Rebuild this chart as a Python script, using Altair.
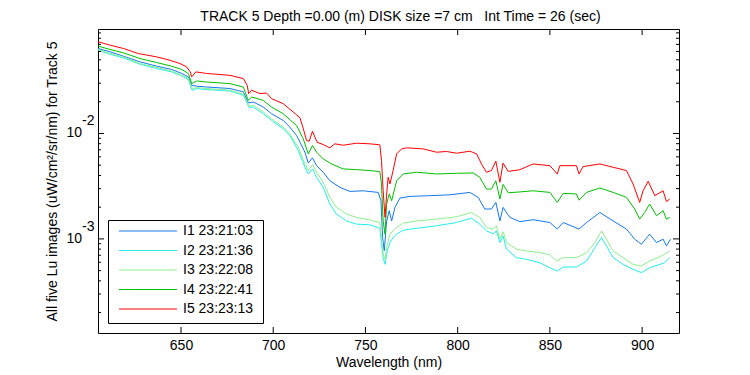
import altair as alt
import pandas as pd

NAMES = ["I1 23:21:03", "I2 23:21:36", "I3 23:22:08", "I4 23:22:41", "I5 23:23:13"]
COLORS = ["#1478f0", "#22eeee", "#8cf08c", "#00c000", "#ff0000"]

WL_I1 = [605, 611.5, 618.7, 627.8, 636.8, 644.9, 650.4, 654, 655.8, 658.5, 663.9, 676.5, 683.8, 686.5,
         689.2, 694.6, 699.1, 705.4, 709, 712.7, 717.2, 719, 721.3, 723.5, 727.1, 730.7, 736.2, 741.6,
         748.8, 756.9, 758.4, 759.3, 760.2, 761.5, 762.9, 764.2, 766, 768.7, 774.1, 784.9, 795.8, 806.6,
         811.1, 814.7, 818.3, 820.7, 822.9, 824.6, 828.3, 833.7, 840.9, 850, 854, 857.2, 865.8, 869.9,
         877.1, 884.3, 891.5, 896, 899.6, 904.1, 907.8, 911.4, 913.2, 915.4]
LU_I1 = [0.0641, 0.0596, 0.0541, 0.0478, 0.0435, 0.0405, 0.0371, 0.0344, 0.0286, 0.0281, 0.0276, 0.0267,
         0.0248, 0.0195, 0.0199, 0.0178, 0.0154, 0.0133, 0.0115, 0.00957, 0.00664, 0.00524, 0.00586,
         0.00495, 0.00429, 0.00356, 0.00308, 0.00282, 0.00286, 0.00276, 0.00230, 0.00103, 0.000769,
         0.00148, 0.00185, 0.00148, 0.00199, 0.00244, 0.00253, 0.00257, 0.00262, 0.00276, 0.00248,
         0.00192, 0.00192, 0.00222, 0.00148, 0.00199, 0.00160, 0.00146, 0.00152, 0.00143, 0.00124,
         0.00143, 0.00124, 0.00143, 0.00178, 0.00148, 0.00124, 0.000993, 0.000889, 0.00111, 0.000923,
         0.000993, 0.000857, 0.000993]

WL_I2 = [605, 611.5, 618.7, 627.8, 636.8, 644.9, 650.4, 654, 656.1, 658.5, 663.9, 676.5, 683.8, 687,
         689.2, 694.6, 699.1, 705.4, 709, 713.6, 717.2, 719, 721.3, 723.5, 727.1, 730.7, 734.3, 739.7,
         745.2, 752.4, 757.8, 758.7, 759.6, 760.6, 761.8, 763.3, 765, 766.9, 770.5, 777.7, 788.5, 799.4,
         807.5, 812, 815.6, 819.2, 821, 822.9, 824.6, 826.5, 831.9, 837.3, 844.6, 850, 854, 857.2, 864.4,
         869.9, 874.4, 878, 880.7, 884.3, 889.7, 895.1, 899.6, 904.1, 908.6, 912.2, 915]
LU_I2 = [0.0617, 0.0565, 0.0521, 0.0454, 0.0413, 0.0384, 0.0352, 0.0324, 0.0257, 0.0267, 0.0261, 0.0253,
         0.0230, 0.0176, 0.0178, 0.0154, 0.0133, 0.0111, 0.00957, 0.00689, 0.00478, 0.00413, 0.00461,
         0.00384, 0.00308, 0.00214, 0.00172, 0.00148, 0.00138, 0.00136, 0.00126, 0.000889, 0.000664,
         0.000574, 0.000769, 0.000923, 0.00103, 0.00111, 0.00121, 0.00126, 0.00133, 0.00143, 0.00157,
         0.00138, 0.00119, 0.00112, 0.00119, 0.000923, 0.00107, 0.000798, 0.000664, 0.000640, 0.000594,
         0.000533, 0.000495, 0.000541, 0.000541, 0.000617, 0.000826, 0.00103, 0.000857, 0.000664,
         0.000574, 0.000514, 0.000478, 0.000533, 0.000565, 0.000594, 0.000664]

WL_I3 = [605, 611.5, 618.7, 627.8, 636.8, 644.9, 650.4, 654, 656.1, 658.5, 663.9, 676.5, 683.8, 687,
         689.2, 694.6, 699.1, 705.4, 709, 713.6, 717.2, 719, 721.3, 723.5, 727.1, 730.7, 734.3, 739.7,
         745.2, 752.4, 757.8, 758.7, 759.6, 760.6, 761.8, 763.3, 765, 766.9, 770.5, 777.7, 788.5, 799.4,
         807.5, 812, 815.6, 819.2, 821, 822.9, 824.6, 826.5, 831.9, 837.3, 844.6, 850, 853.6, 857.2, 864.4,
         869.9, 874.4, 878, 880.7, 884.3, 889.7, 895.1, 899.6, 904.1, 908.6, 912.2, 915]
LU_I3 = [0.0627, 0.0574, 0.0533, 0.0461, 0.0423, 0.0392, 0.0356, 0.0332, 0.0267, 0.0272, 0.0267, 0.0257,
         0.0235, 0.0181, 0.0185, 0.0160, 0.0138, 0.0115, 0.00993, 0.00741, 0.00514, 0.00445, 0.00507,
         0.00429, 0.00344, 0.00248, 0.00199, 0.00172, 0.00160, 0.00151, 0.00143, 0.00103, 0.000714,
         0.000640, 0.000889, 0.00111, 0.00119, 0.00128, 0.00141, 0.00148, 0.00154, 0.00162, 0.00178,
         0.00160, 0.00128, 0.00124, 0.00133, 0.000993, 0.00117, 0.000923, 0.000798, 0.000769, 0.000741,
         0.000705, 0.000617, 0.000664, 0.000664, 0.000741, 0.000923, 0.00119, 0.000993, 0.000769,
         0.000664, 0.000574, 0.000553, 0.000617, 0.000664, 0.000714, 0.000769]

WL_I4 = [605, 611.5, 618.7, 627.8, 636.8, 644.9, 650.4, 654, 655.8, 658.5, 663.9, 676.5, 683.8, 686.5,
         688.3, 694.6, 699.1, 705.4, 709, 712.7, 716.3, 719, 721.3, 723.5, 727.1, 731.6, 738, 745.2,
         752.4, 757.8, 758.7, 759.6, 760.6, 761.5, 762.9, 764.2, 766.9, 770.5, 777.7, 788.5, 799.4, 808.4,
         812, 815.6, 818.3, 820.7, 822.9, 824.6, 827.4, 833.7, 840.9, 850, 854, 857.2, 864.4, 865.8,
         869.9, 877.1, 884.3, 891.5, 896, 898.7, 901.4, 904.1, 907.8, 911.4, 913.2, 915]
LU_I4 = [0.0675, 0.0627, 0.0582, 0.0514, 0.0471, 0.0435, 0.0405, 0.0371, 0.0297, 0.0315, 0.0308, 0.0297,
         0.0276, 0.0206, 0.0222, 0.0206, 0.0178, 0.0154, 0.0135, 0.0119, 0.00889, 0.00640, 0.00769,
         0.00664, 0.00574, 0.00514, 0.00461, 0.00454, 0.00445, 0.00435, 0.00332, 0.00148, 0.00111,
         0.00214, 0.00267, 0.00230, 0.00356, 0.00413, 0.00429, 0.00413, 0.00419, 0.00422, 0.00384,
         0.00297, 0.00297, 0.00356, 0.00239, 0.00329, 0.00274, 0.00279, 0.00286, 0.00276, 0.00222,
         0.00270, 0.00267, 0.00233, 0.00276, 0.00304, 0.00276, 0.00248, 0.00192, 0.00154, 0.00178,
         0.00214, 0.00166, 0.00185, 0.00154, 0.00160]

WL_I5 = [605, 611.5, 618.7, 626.8, 636.8, 644, 649.4, 653, 655, 655.8, 658, 663.9, 676.5, 683.8, 685.9,
         686.7, 688.3, 692.8, 696.4, 699.1, 705.4, 709, 714.5, 716.3, 718.1, 719.5, 721.3, 722.6, 723.8,
         727.1, 730.7, 733.4, 738, 745.2, 752.4, 757.8, 758.7, 759.6, 760.6, 761.5, 762.3, 763.3, 765,
         766.9, 769.6, 772.3, 781.3, 788.5, 793.9, 799.4, 806.6, 810.3, 812.9, 815.6, 818.3, 820.7, 822.9,
         824.6, 827.4, 833.7, 840.9, 850, 854, 855.4, 864.4, 865.8, 868, 877.1, 884.3, 891.5, 895.1,
         898.7, 900.5, 903.3, 906.9, 911.4, 913.2, 915]
LU_I5 = [0.0741, 0.0689, 0.0641, 0.0574, 0.0533, 0.0495, 0.0461, 0.0429, 0.0384, 0.0344, 0.0384, 0.0371,
         0.0356, 0.0332, 0.0286, 0.0239, 0.0257, 0.0239, 0.0242, 0.0214, 0.0192, 0.0170, 0.0141, 0.0111,
         0.00857, 0.00845, 0.0105, 0.00923, 0.00826, 0.00785, 0.00731, 0.00798, 0.00774, 0.00809,
         0.00798, 0.00780, 0.00553, 0.00286, 0.00160, 0.00266, 0.00384, 0.00332, 0.00445, 0.00640,
         0.00714, 0.00731, 0.00714, 0.00664, 0.00675, 0.00650, 0.00679, 0.00640, 0.00514, 0.00429,
         0.00445, 0.00546, 0.00344, 0.00524, 0.00437, 0.00453, 0.00514, 0.00495, 0.00413, 0.00495,
         0.00495, 0.00413, 0.00485, 0.00514, 0.00478, 0.00445, 0.00332, 0.00222, 0.00286, 0.00352,
         0.00257, 0.00286, 0.00226, 0.00239]

X_LIMITS = [605, 920]
Y_LIMITS = [1.28e-4, 0.098]
X_TICKS = [650, 700, 750, 800, 850, 900]
Y_MAJOR = [0.001, 0.01]
Y_EXP = ["-3", "-2"]
Y_MINOR = [2e-4, 3e-4, 4e-4, 5e-4, 6e-4, 7e-4, 8e-4, 9e-4,
           2e-3, 3e-3, 4e-3, 5e-3, 6e-3, 7e-3, 8e-3, 9e-3,
           2e-2, 3e-2, 4e-2, 5e-2, 6e-2, 7e-2, 8e-2, 9e-2]

NB = "\u00a0"
TITLE = "TRACK 5 Depth =0.00 (m) DISK size =7 cm " + NB + NB + "Int Time = 26 (sec)"
X_TITLE = "Wavelength (nm)"
Y_TITLE = "All five Lu images (uW/cm\u00b2/sr/nm) for Track 5"

FONT = "Liberation Sans"
FS = 14
W, H = 581, 304

frames = []
for name, wl, lu in zip(NAMES, [WL_I1, WL_I2, WL_I3, WL_I4, WL_I5],
                        [LU_I1, LU_I2, LU_I3, LU_I4, LU_I5]):
    d = pd.DataFrame({"wl": wl, "lu": lu})
    d["name"] = name
    frames.append(d)
spectra = pd.concat(frames, ignore_index=True)

x_scale = alt.Scale(domain=X_LIMITS, nice=False, zero=False)
y_scale = alt.Scale(type="log", domain=Y_LIMITS, nice=False)
color_scale = alt.Scale(domain=NAMES, range=COLORS)

x_axis = alt.Axis(values=X_TICKS, ticks=False, tickSize=0, domain=False, grid=False,
                  labelFontSize=FS, labelPadding=5, labelFont=FONT, labelColor="black",
                  title=X_TITLE, titleFontSize=FS, titleFontWeight="normal", titleFont=FONT,
                  titleColor="black", titlePadding=3)

lines = alt.Chart(spectra).mark_line(strokeWidth=1, clip=True).encode(
    x=alt.X("wl:Q", scale=x_scale, axis=x_axis),
    y=alt.Y("lu:Q", scale=y_scale,
            axis=alt.Axis(labels=False, ticks=False, tickSize=0, domain=False, grid=False,
                          title=Y_TITLE, titleFontSize=FS, titleFontWeight="normal", titleFont=FONT,
                          titleColor="black", titlePadding=39)),
    color=alt.Color("name:N", scale=color_scale, legend=None),
    detail="name:N",
    order=alt.Order("wl:Q"),
)

xt = pd.DataFrame({"wl": X_TICKS})
ymaj = pd.DataFrame({"lu": Y_MAJOR, "e": Y_EXP})
ymin = pd.DataFrame({"lu": Y_MINOR})

def xticks(y0, y1):
    return alt.Chart(xt).mark_rule(color="black", strokeWidth=1).encode(
        x=alt.X("wl:Q", scale=x_scale, axis=x_axis), y=alt.value(y0), y2=alt.value(y1))

def yticks(df, x0, x1):
    return alt.Chart(df).mark_rule(color="black", strokeWidth=1).encode(
        y=alt.Y("lu:Q", scale=y_scale, axis=None), x=alt.value(x0), x2=alt.value(x1))

tick_layers = [
    xticks(H, H - 6), xticks(0, 6),
    yticks(ymaj, 0, 6), yticks(ymaj, W, W - 6),
    yticks(ymin, 0, 3), yticks(ymin, W, W - 3),
]

ten = alt.Chart(ymaj).mark_text(align="right", baseline="middle", fontSize=FS, font=FONT,
                                color="black").encode(
    y=alt.Y("lu:Q", scale=y_scale, axis=None), x=alt.value(-16), text=alt.value("10"))
exp = alt.Chart(ymaj).mark_text(align="left", baseline="middle", fontSize=FS, font=FONT,
                                color="black", dy=-12).encode(
    y=alt.Y("lu:Q", scale=y_scale, axis=None), x=alt.value(-16), text="e:N")

box = alt.Chart(pd.DataFrame({"k": [0]})).mark_rect(fill="white", stroke="black",
                                                     strokeWidth=1).encode(
    x=alt.value(10.5), x2=alt.value(165.5), y=alt.value(191.5), y2=alt.value(294.5))

leg = pd.DataFrame({"name": NAMES})
leg_y = alt.Y("name:N", scale=alt.Scale(type="point", domain=NAMES, range=[202, 280], padding=0),
              axis=None)
leg_lines = alt.Chart(leg).mark_rule(strokeWidth=1).encode(
    y=leg_y, x=alt.value(21), x2=alt.value(79),
    color=alt.Color("name:N", scale=color_scale, legend=None))
leg_text = alt.Chart(leg).mark_text(align="left", baseline="middle", fontSize=FS, font=FONT,
                                    color="black").encode(
    y=leg_y, x=alt.value(85), text="name:N")

chart = alt.layer(lines, *tick_layers, ten, exp, box, leg_lines, leg_text).resolve_scale(
    y="independent"
).properties(
    width=W, height=H,
    autosize=alt.AutoSizeParams(type="none"),
    padding={"left": 90, "top": 21, "right": 55, "bottom": 38},
    background="white",
    title=alt.TitleParams(text=TITLE, fontSize=FS, fontWeight="normal", font=FONT, color="black",
                          anchor="middle", offset=5, dx=12),
).configure_view(stroke="black", strokeWidth=1)

chart.save("out.html", embed_options={"renderer": "svg", "actions": False})
